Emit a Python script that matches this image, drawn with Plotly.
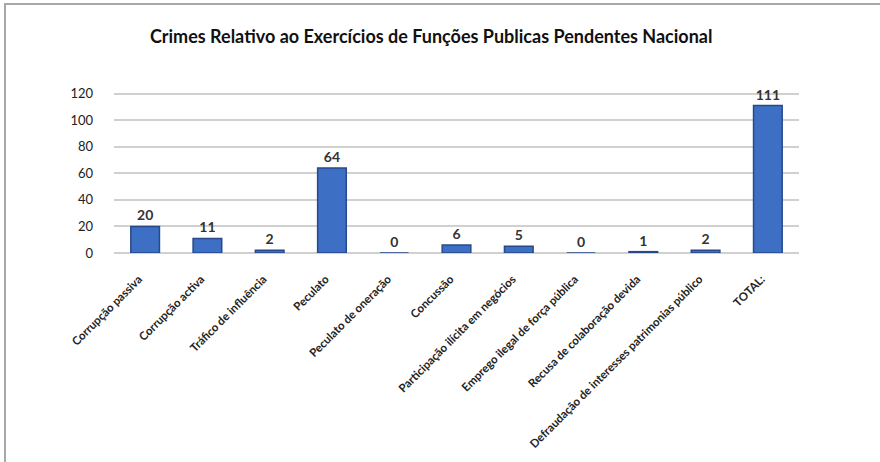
import plotly.graph_objects as go

categories = [
    "Corrupção passiva",
    "Corrupção activa",
    "Tráfico de influência",
    "Peculato",
    "Peculato de oneração",
    "Concussão",
    "Participação ilícita em negócios",
    "Emprego ilegal de força pública",
    "Recusa de colaboração devida",
    "Defraudação de interesses patrimonias público",
    "TOTAL:",
]
values = [20, 11, 2, 64, 0, 6, 5, 0, 1, 2, 111]
y_ticks = [0, 20, 40, 60, 80, 100, 120]

W, H = 880, 462
L, R, T, B = 114, 81, 91, 209

fig = go.Figure()
fig.add_trace(go.Bar(
    x=categories,
    y=values,
    width=0.46,
    marker=dict(color="#3d6fc4", line=dict(color="#27498a", width=1.5)),
    text=[str(v) for v in values],
    texttemplate="<b>%{text}</b>",
    textposition="outside",
    textfont=dict(family="Lato", size=14, color="#333333"),
    cliponaxis=False,
))

fig.update_layout(
    width=W, height=H,
    paper_bgcolor="white", plot_bgcolor="white",
    margin=dict(l=L, r=R, t=T, b=B, autoexpand=False),
    showlegend=False,
    title=dict(
        text="<b>Crimes Relativo ao Exercícios de Funções Publicas Pendentes Nacional</b>",
        x=0.49, xanchor="center", y=1 - 37 / H, yanchor="middle", yref="container",
        font=dict(family="Lato", size=18, color="#111111"),
    ),
    font=dict(family="Lato", color="#222222"),
)
fig.update_xaxes(
    tickangle=-45,
    tickfont=dict(family="Lato", size=11.5, color="#222222"),
    showline=False, ticks="", automargin=False,
    ticklabelstandoff=10,
    tickprefix="<b>", ticksuffix="</b>\u00a0\u00a0\u00a0",
)
fig.update_yaxes(
    range=[0, 122],
    tickvals=y_ticks,
    tickfont=dict(family="Lato", size=13, color="#222222"),
    showgrid=True, gridcolor="#d0d0d0", gridwidth=1.5,
    zeroline=True, zerolinecolor="#d0d0d0", zerolinewidth=1.5,
    ticklabelstandoff=20, automargin=False,
    tickprefix="<b>", ticksuffix="</b>",
)

pw, ph = W - L - R, H - T - B
# chart frame (top and left edges visible in the reference)
fig.add_shape(type="rect", xref="paper", yref="paper",
              x0=(5 - L) / pw, x1=(W + 20 - L) / pw,
              y0=-(H + 20 - (H - B)) / ph, y1=(H - B - 4) / ph,
              line=dict(color="#a8a8a8", width=2), layer="below")

fig.write_html("out.html", config={"displayModeBar": False},
               post_script="document.body.style.margin='0';")
